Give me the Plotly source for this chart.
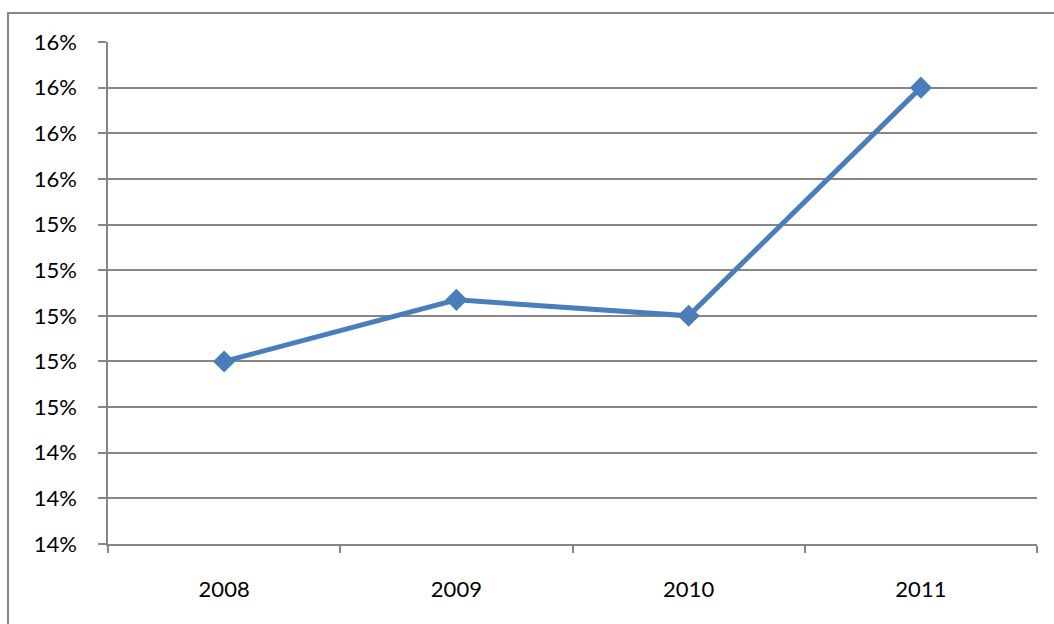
import plotly.graph_objects as go

years = ["2008", "2009", "2010", "2011"]
values = [0.148, 0.1507, 0.150, 0.160]

y_min, y_max, y_step = 0.140, 0.162, 0.002

W, H = 1054, 624
L, R, T, B = 108, 17, 42, 80
pw, ph = W - L - R, H - T - B

fig = go.Figure()
fig.add_trace(go.Scatter(
    x=years, y=values, mode="lines+markers",
    line=dict(color="#4a7ebb", width=5),
    marker=dict(symbol="diamond", size=17, color="#4a7ebb"),
    showlegend=False, hoverinfo="skip",
))

font = dict(family="Lato, Calibri, sans-serif", size=22, color="#000000")

fig.update_layout(
    width=W, height=H,
    margin=dict(l=L, r=R, t=T, b=B),
    paper_bgcolor="white", plot_bgcolor="white",
    font=font,
    xaxis=dict(
        type="category", range=[-0.5, 3.5], tickson="boundaries",
        ticks="outside", ticklen=7, tickcolor="#868686", tickwidth=1.5,
        showline=True, linecolor="#868686", linewidth=1.5,
        showgrid=False, ticklabelstandoff=25, tickfont=font,
    ),
    yaxis=dict(
        range=[y_min, y_max], dtick=y_step, tick0=y_min, tickformat=".0%",
        ticks="outside", ticklen=8, tickcolor="#868686", tickwidth=1.5,
        showline=True, linecolor="#868686", linewidth=1.5,
        showgrid=True, gridcolor="#868686", gridwidth=1.5,
        zeroline=False, ticklabelstandoff=17, tickfont=font,
    ),
    shapes=[dict(
        type="rect", xref="paper", yref="paper",
        x0=(8 - L) / pw, x1=(W + 20 - L) / pw,
        y0=(H - B - (H + 20)) / ph, y1=(H - B - 13) / ph,
        line=dict(color="#868686", width=2), fillcolor="rgba(0,0,0,0)",
        layer="below",
    )],
)

fig.write_html("out.html")
